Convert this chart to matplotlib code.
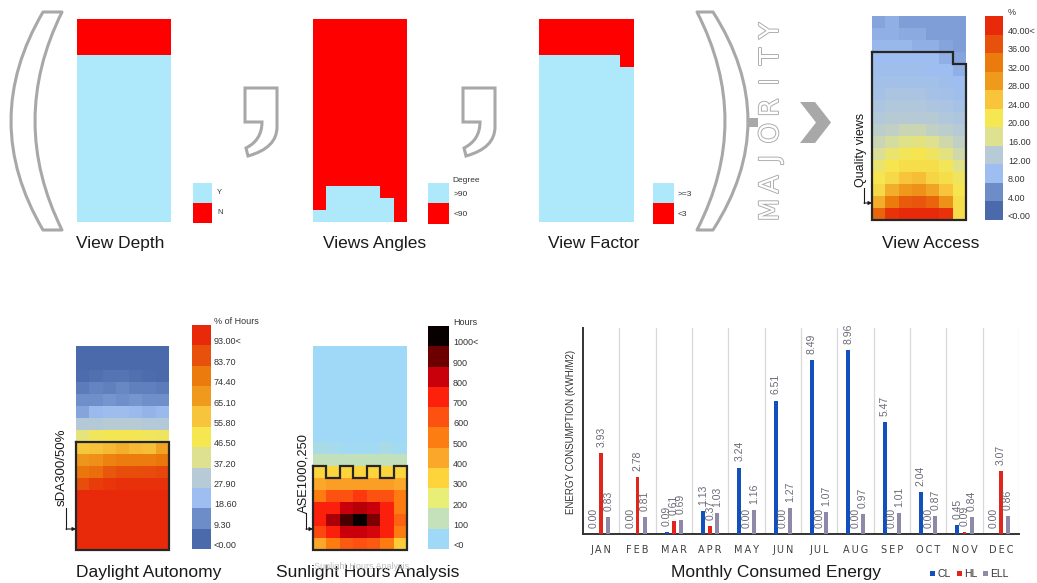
import numpy as np
import matplotlib
matplotlib.use('Agg')
import matplotlib.pyplot as plt
from matplotlib.colors import ListedColormap, LinearSegmentedColormap, Normalize
from matplotlib.path import Path
from matplotlib.patches import PathPatch, Rectangle, Polygon
import matplotlib.patheffects as pe

plt.rcParams['font.family'] = ['Liberation Sans', 'DejaVu Sans']

# ---------------- data ----------------
# categorical grids: 0 = pass (light blue), 1 = fail (red); 17 rows x 7 cols, top row first
view_depth = [
    [1, 1, 1, 1, 1, 1, 1], [1, 1, 1, 1, 1, 1, 1], [1, 1, 1, 1, 1, 1, 1],
    [0, 0, 0, 0, 0, 0, 0], [0, 0, 0, 0, 0, 0, 0], [0, 0, 0, 0, 0, 0, 0],
    [0, 0, 0, 0, 0, 0, 0], [0, 0, 0, 0, 0, 0, 0], [0, 0, 0, 0, 0, 0, 0],
    [0, 0, 0, 0, 0, 0, 0], [0, 0, 0, 0, 0, 0, 0], [0, 0, 0, 0, 0, 0, 0],
    [0, 0, 0, 0, 0, 0, 0], [0, 0, 0, 0, 0, 0, 0], [0, 0, 0, 0, 0, 0, 0],
    [0, 0, 0, 0, 0, 0, 0], [0, 0, 0, 0, 0, 0, 0],
]
views_angles = [
    [1, 1, 1, 1, 1, 1, 1], [1, 1, 1, 1, 1, 1, 1], [1, 1, 1, 1, 1, 1, 1],
    [1, 1, 1, 1, 1, 1, 1], [1, 1, 1, 1, 1, 1, 1], [1, 1, 1, 1, 1, 1, 1],
    [1, 1, 1, 1, 1, 1, 1], [1, 1, 1, 1, 1, 1, 1], [1, 1, 1, 1, 1, 1, 1],
    [1, 1, 1, 1, 1, 1, 1], [1, 1, 1, 1, 1, 1, 1], [1, 1, 1, 1, 1, 1, 1],
    [1, 1, 1, 1, 1, 1, 1], [1, 1, 1, 1, 1, 1, 1], [1, 0, 0, 0, 0, 1, 1],
    [1, 0, 0, 0, 0, 0, 1], [0, 0, 0, 0, 0, 0, 1],
]
view_factor = [
    [1, 1, 1, 1, 1, 1, 1], [1, 1, 1, 1, 1, 1, 1], [1, 1, 1, 1, 1, 1, 1],
    [0, 0, 0, 0, 0, 0, 1], [0, 0, 0, 0, 0, 0, 0], [0, 0, 0, 0, 0, 0, 0],
    [0, 0, 0, 0, 0, 0, 0], [0, 0, 0, 0, 0, 0, 0], [0, 0, 0, 0, 0, 0, 0],
    [0, 0, 0, 0, 0, 0, 0], [0, 0, 0, 0, 0, 0, 0], [0, 0, 0, 0, 0, 0, 0],
    [0, 0, 0, 0, 0, 0, 0], [0, 0, 0, 0, 0, 0, 0], [0, 0, 0, 0, 0, 0, 0],
    [0, 0, 0, 0, 0, 0, 0], [0, 0, 0, 0, 0, 0, 0],
]
# View access (%)
view_access = [
    [6, 7, 5.5, 5.5, 5.5, 5.5, 5.5],
    [7, 7, 6.5, 6.5, 5.5, 5.5, 5.5],
    [7.5, 7.5, 7.5, 7, 7, 6, 5.5],
    [8, 8, 8, 8, 8, 7, 6],
    [8.5, 8.5, 8.5, 8.5, 8, 8, 7],
    [9, 9, 9, 9, 9, 8.5, 8],
    [9.5, 10, 10, 10, 9.5, 9, 8.5],
    [10.5, 11, 11, 11, 10.5, 10, 9.5],
    [11.5, 12, 12, 12, 12, 11, 10.5],
    [12.5, 13, 14, 14, 13, 12.5, 12],
    [14, 15, 16.5, 17, 16, 14.5, 13],
    [15.5, 18, 19.5, 20, 19, 17, 14.5],
    [18, 20, 21, 21, 21, 19.5, 16.5],
    [20, 21.5, 24, 24.5, 22, 21, 19],
    [21.5, 26, 28, 29, 27, 24, 20],
    [26, 32, 35, 35.5, 34, 29, 21],
    [34, 39, 40, 40, 40, 39, 21],
]
# Daylight autonomy (% of hours)
daylight = [
    [0, 0, 0, 0, 0, 0, 0],
    [0, 0, 0, 0, 0, 0, 0],
    [1, 2, 3, 3, 2, 1, 0],
    [5, 7, 6, 8, 6, 6, 5],
    [10, 10, 11, 10, 11, 10, 10],
    [14, 18, 19, 19, 18, 17, 18],
    [27, 27, 28, 28, 28, 27, 27],
    [40, 45, 46, 46, 46, 45, 44],
    [55, 56, 58, 60, 58, 57, 63],
    [66, 68, 72, 74, 74, 74, 75],
    [75, 77, 82, 84, 84, 85, 86],
    [84, 88, 90, 91, 91, 91, 91],
    [93, 93, 93, 93, 93, 93, 93],
    [93, 93, 93, 93, 93, 93, 93],
    [93, 93, 93, 93, 93, 93, 93],
    [93, 93, 93, 93, 93, 93, 93],
    [93, 93, 93, 93, 93, 93, 93],
]
# Sunlight hours
sunlight = [
    [0, 0, 0, 0, 0, 0, 0], [0, 0, 0, 0, 0, 0, 0], [0, 0, 0, 0, 0, 0, 0],
    [0, 0, 0, 0, 0, 0, 0], [0, 0, 0, 0, 0, 0, 0], [0, 0, 0, 0, 0, 0, 0],
    [0, 0, 0, 0, 0, 0, 0], [0, 0, 0, 0, 0, 0, 0],
    [30, 20, 10, 10, 10, 30, 10],
    [100, 100, 100, 100, 100, 100, 100],
    [300, 300, 300, 300, 300, 300, 300],
    [400, 420, 420, 420, 420, 420, 400],
    [500, 600, 600, 650, 600, 600, 500],
    [700, 700, 800, 820, 800, 700, 500],
    [700, 830, 930, 1000, 880, 700, 560],
    [620, 700, 800, 800, 780, 700, 500],
    [400, 500, 580, 600, 580, 500, 320],
]

va_labels = ['40.00<', '36.00', '32.00', '28.00', '24.00', '20.00', '16.00', '12.00', '8.00', '4.00', '<0.00']
da_labels = ['93.00<', '83.70', '74.40', '65.10', '55.80', '46.50', '37.20', '27.90', '18.60', '9.30', '<0.00']
sh_labels = ['1000<', '900', '800', '700', '600', '500', '400', '300', '200', '100', '<0']

months = ['JAN', 'FEB', 'MAR', 'APR', 'MAY', 'JUN', 'JUL', 'AUG', 'SEP', 'OCT', 'NOV', 'DEC']
cl = [0.00, 0.00, 0.09, 1.13, 3.24, 6.51, 8.49, 8.96, 5.47, 2.04, 0.45, 0.00]
hl = [3.93, 2.78, 0.61, 0.37, 0.00, 0.00, 0.00, 0.00, 0.00, 0.00, 0.09, 3.07]
ell = [0.83, 0.81, 0.69, 1.03, 1.16, 1.27, 1.07, 0.97, 1.01, 0.87, 0.84, 0.86]

# ---------------- styles ----------------
BLUE_CAT = '#aee8fb'
RED_CAT = '#fe0000'
LB_COLORS = ['#4b6aab', '#6d8dc9', '#9ebdf0', '#b7cbd6', '#dee290', '#f6e650',
             '#f7c43b', '#ef991d', '#ec7b0d', '#e8510c', '#e82a0a']
SH_COLORS = ['#a0d9f8', '#c4e1bb', '#e8ee76', '#fdd43b', '#fba72a', '#fc7d11',
             '#fd5111', '#fd210c', '#c9000b', '#6c0000', '#080000']
GRAY = '#a8a8a8'
OUT = '#262626'
CL_C, HL_C, ELL_C = '#1150bd', '#e0261c', '#8e89a8'

W, H = 1037, 583
fig = plt.figure(figsize=(W / 100, H / 100), dpi=100)


def px_axes(x0, y0, x1, y1):
    return fig.add_axes([x0 / W, 1 - y1 / H, (x1 - x0) / W, (y1 - y0) / H])


# overlay in pixel coordinates
ov = fig.add_axes([0, 0, 1, 1])
ov.set_xlim(0, W)
ov.set_ylim(H, 0)
ov.axis('off')


def heat(box, mat, cmap, norm):
    ax = px_axes(*box)
    ax.imshow(np.array(mat, dtype=float), cmap=cmap, norm=norm, aspect='auto',
              interpolation='nearest', extent=(0, 7, 17, 0))
    ax.set_xlim(0, 7)
    ax.set_ylim(17, 0)
    ax.axis('off')
    return ax


def cbar(box, colors, header, labels, dx, fs=6.5):
    cax = px_axes(*box)
    n = len(colors)
    cax.imshow(np.arange(n)[::-1][:, None], cmap=ListedColormap(colors),
               norm=Normalize(-0.5, n - 0.5), aspect='auto',
               interpolation='nearest', extent=(0, 1, n, 0))
    cax.axis('off')
    wpx = box[2] - box[0]
    xt = 1 + dx / wpx
    cax.text(xt, 1.005, header, transform=cax.transAxes, va='baseline',
             ha='left', fontsize=fs, color='#333333')
    for k, lab in enumerate(labels):
        cax.text(xt, 1 - (k + 1) / n + 0.004, lab, transform=cax.transAxes,
                 va='baseline', ha='left', fontsize=fs, color='#333333')
    return cax


cat_cmap = ListedColormap([BLUE_CAT, RED_CAT])
cat_norm = Normalize(0, 1)
heat((77, 19, 171, 222), view_depth, cat_cmap, cat_norm)
heat((313, 19, 407, 222), views_angles, cat_cmap, cat_norm)
heat((539, 19, 633, 222), view_factor, cat_cmap, cat_norm)

# mesh colours are a continuous gradient; legends show the stepped segments
lb_grad = LinearSegmentedColormap.from_list('lb', LB_COLORS)
sh_grad = LinearSegmentedColormap.from_list('sh', SH_COLORS)

ax_va = heat((872, 16, 966, 220), view_access, lb_grad, Normalize(0, 40))
ax_va.plot([0, 6, 6, 7, 7, 0, 0], [3, 3, 4, 4, 17, 17, 3], color=OUT, lw=1.6,
           clip_on=False, solid_joinstyle='miter')
cbar((985, 16, 1003, 220), LB_COLORS, '%', va_labels, 5)

ax_da = heat((76, 346, 169, 550), daylight, lb_grad, Normalize(0, 93))
ax_da.plot([0, 7, 7, 0, 0], [8, 8, 17, 17, 8], color=OUT, lw=1.6, clip_on=False,
           solid_joinstyle='miter')
cbar((192, 325, 211, 549), LB_COLORS, '% of Hours', da_labels, 3)

ax_sh = heat((313, 346, 407, 550), sunlight, sh_grad, Normalize(0, 1000))
ax_sh.plot([0, 1, 1, 2, 2, 3, 3, 4, 4, 5, 5, 6, 6, 7, 7, 0, 0],
           [10, 10, 11, 11, 10, 10, 11, 11, 10, 10, 11, 11, 10, 10, 17, 17, 10],
           color=OUT, lw=1.6, clip_on=False, solid_joinstyle='miter')
cbar((428, 326, 448, 549), SH_COLORS, 'Hours', sh_labels, 5)

# ---------------- top legends ----------------
def swatch(x, y, w, h, c):
    ov.add_patch(Rectangle((x, y), w, h, facecolor=c, edgecolor='none'))

swatch(193, 183, 19, 20, BLUE_CAT)
swatch(193, 203, 19, 20, RED_CAT)
ov.text(217, 193, 'Y', fontsize=5.5, va='center', color='#333333')
ov.text(217, 212, 'N', fontsize=5.5, va='center', color='#333333')

swatch(428, 183, 21, 20, BLUE_CAT)
swatch(428, 203, 21, 21, RED_CAT)
ov.text(452, 180, 'Degree', fontsize=6, va='center', color='#333333')
ov.text(454, 194, '>90', fontsize=6, va='center', color='#333333')
ov.text(454, 215, '<90', fontsize=6, va='center', color='#333333')

swatch(653, 183, 21, 20, BLUE_CAT)
swatch(653, 203, 21, 21, RED_CAT)
ov.text(678, 194, '>=3', fontsize=6, va='center', color='#333333')
ov.text(678, 215, '<3', fontsize=6, va='center', color='#333333')

# ---------------- brackets, commas, arrow, MAJORITY ----------------
def bracket(pts_codes):
    verts, codes = zip(*pts_codes)
    ov.add_patch(PathPatch(Path(verts, codes), facecolor='white', edgecolor=GRAY,
                           lw=2.2, joinstyle='round'))

M, L, C, Z = Path.MOVETO, Path.LINETO, Path.CURVE3, Path.CLOSEPOLY
bracket([((43, 12), M), ((62, 12), L), ((8, 121), C), ((62, 230), C),
         ((43, 230), L), ((-21, 121), C), ((43, 12), C), ((43, 12), Z)])
bracket([((697, 12), M), ((713, 12), L), ((783, 121), C), ((713, 230), C),
         ((697, 230), L), ((753, 121), C), ((697, 12), C), ((697, 12), Z)])
ov.add_patch(Rectangle((748, 118), 10, 9, facecolor=GRAY, edgecolor='none'))


def comma(x0, y0):
    pts = [((0, 0), M), ((32, 0), L), ((32, 39), L), ((32, 60), C), ((3, 68), C),
           ((1, 60), L), ((17, 52), C), ((17, 34), C), ((0, 34), L), ((0, 0), L),
           ((0, 0), Z)]
    verts = [(x0 + p[0], y0 + p[1]) for p, _ in pts]
    codes = [c for _, c in pts]
    ov.add_patch(PathPatch(Path(verts, codes), facecolor='white', edgecolor=GRAY,
                           lw=2.2, joinstyle='miter'))

comma(245, 88)
comma(463, 88)

ov.add_patch(Polygon([(800, 102), (815, 102), (831, 122.5), (815, 143), (800, 143),
                      (816, 122.5)], closed=True, facecolor=GRAY, edgecolor='none'))

for i, ch in enumerate('MAJORITY'):
    ov.text(771, 210 - i * 25.6, ch, rotation=90, ha='center', va='center',
            fontsize=19, family='DejaVu Sans', color='white',
            path_effects=[pe.Stroke(linewidth=1.3, foreground=GRAY), pe.Normal()])

# ---------------- annotations with arrows ----------------
def side_label(xt, yt, text, fs, xl, y0, y1, xa):
    ov.text(xt, yt, text, rotation=90, ha='center', va='center', fontsize=fs,
            color='#1a1a1a')
    ov.plot([xl, xl], [y0, y1], color='#1a1a1a', lw=0.8)
    ov.annotate('', xy=(xa, y1), xytext=(xl, y1),
                arrowprops=dict(arrowstyle='-|>', color='#1a1a1a', lw=0.8,
                                mutation_scale=5, shrinkA=0, shrinkB=0))

side_label(861, 150, 'Quality views', 9, 864, 188, 203, 872)
side_label(62, 467, 'sDA300/50%', 9.5, 66, 508, 529, 76)
side_label(303, 473, 'ASE1000,250', 9.3, 306, 513, 529, 313)

# ---------------- titles ----------------
for x, y, t in [(120, 248, 'View Depth'), (375, 248, 'Views Angles'),
                (594, 248, 'View Factor'), (931, 248, 'View Access'),
                (149, 577, 'Daylight Autonomy'), (368, 577, 'Sunlight Hours Analysis'),
                (776, 577, 'Monthly Consumed Energy')]:
    ov.text(x, y, t, ha='center', va='baseline', fontsize=12.5, color='#1a1a1a')
ov.text(362, 569, 'Sunlight Hours Analysis', ha='center', va='baseline',
        fontsize=6.5, color='#c0c0c0')

# ---------------- bar chart ----------------
ax = px_axes(583, 328, 1019, 534)
ax.set_facecolor('none')
x = np.arange(len(months))
bw = 0.11
offs = [-0.2, 0.0, 0.2]
for off, vals, col in zip(offs, [cl, hl, ell], [CL_C, HL_C, ELL_C]):
    ax.bar(x + off, vals, width=bw, color=col, zorder=3)
    for xi, v in zip(x, vals):
        ax.annotate(f'{v:.2f}', (xi + off, v), xytext=(0, 4.5),
                    textcoords='offset points', rotation=90, ha='center',
                    va='bottom', fontsize=7.5, color='#6a6a78')
ax.set_xlim(-0.5, 11.5)
ax.set_ylim(0, 10.05)
ax.set_xticks(x)
ax.set_xticklabels(['\u2009'.join(m) for m in months], fontsize=7,
                   color='#404040', family=['DejaVu Sans'])
ax.set_xticks(x + 0.5, minor=True)
ax.grid(which='minor', axis='x', color='#d8d8d8', lw=0.9, zorder=0)
ax.tick_params(which='both', length=0)
ax.tick_params(axis='x', pad=8)
ax.set_yticks([])
for s in ['top', 'right']:
    ax.spines[s].set_visible(False)
for s in ['left', 'bottom']:
    ax.spines[s].set_color('#333333')
    ax.spines[s].set_linewidth(1.4)
ax.set_ylabel('ENERGY CONSUMPTION (KWH/M2)', fontsize=7, color='#333333')
ax.yaxis.set_label_coords(-0.016, 0.495)

# legend
for xs, col, lab in [(930, CL_C, 'CL'), (957, HL_C, 'HL'), (983, ELL_C, 'ELL')]:
    ov.add_patch(Rectangle((xs, 571), 5, 5, facecolor=col, edgecolor='none'))
    ov.text(xs + 7, 574, lab, fontsize=7.5, va='center', color='#333333')

fig.savefig('out.png', dpi=100)
